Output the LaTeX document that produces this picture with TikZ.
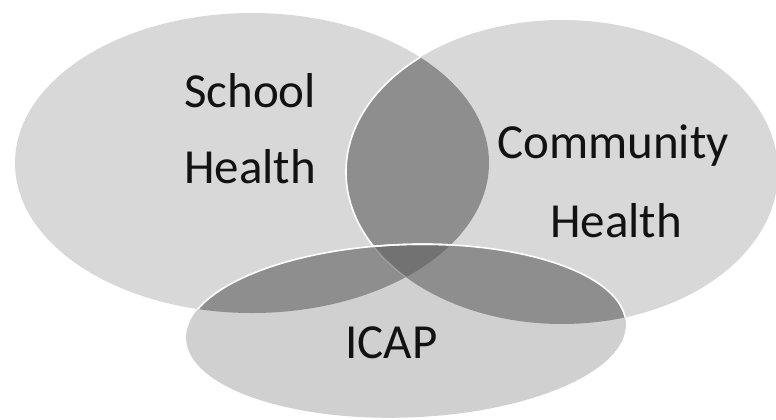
\documentclass[tikz,border=0pt]{standalone}
\usepackage{fontspec}
\setmainfont{Carlito}
\begin{document}
\begin{tikzpicture}[x=1pt,y=-1pt,
  labeltext/.style={inner sep=0pt,anchor=base west,font=\fontsize{49}{49}\selectfont,text=black!93},
  rim/.style={draw=white,line width=1.6pt}]
\definecolor{tintA}{HTML}{D8D8D8}
\definecolor{tintB}{HTML}{8E8E8E}
\definecolor{tintC}{HTML}{727272}
\definecolor{tintI}{HTML}{D0D0D0}
\useasboundingbox (0,0) rectangle (776,420);
% the three circles of the diagram
\def\schoolpath{(252,163) ellipse [x radius=237pt, y radius=150pt]}
\def\communitypath{(562,172) ellipse [x radius=216pt, y radius=152pt]}
\def\icappath{[rotate around={2:(406,331)}] (406,331) ellipse [x radius=220pt, y radius=86.5pt]}
% base fills
\fill[tintA] \schoolpath;
\fill[tintA] \communitypath;
% School / Community overlap
\begin{scope}
  \clip \schoolpath;
  \fill[tintB] \communitypath;
  \draw[rim] \communitypath;
\end{scope}
% ICAP and its overlaps
\fill[tintI] \icappath;
\begin{scope}
  \clip \icappath;
  \fill[tintB] \schoolpath;
  \fill[tintB] \communitypath;
  \begin{scope}
    \clip \schoolpath;
    \fill[tintC] \communitypath;
    \draw[white,line width=1.2pt,opacity=0.25] \communitypath;
  \end{scope}
\end{scope}
% ICAP rim across the other two circles
\begin{scope}
  \clip \schoolpath;
  \draw[rim] \icappath;
\end{scope}
\begin{scope}
  \clip \communitypath;
  \draw[rim] \icappath;
\end{scope}
% labels
\node[labeltext] (school) at (184,107) {School};
\node[labeltext] (schoolh) at (184,183) {Health};
\node[labeltext] (comm) at (497,158) {Community};
\node[labeltext] (commh) at (550,237) {Health};
\node[labeltext] (icap) at (345,358) {ICAP};
\end{tikzpicture}
\end{document}
